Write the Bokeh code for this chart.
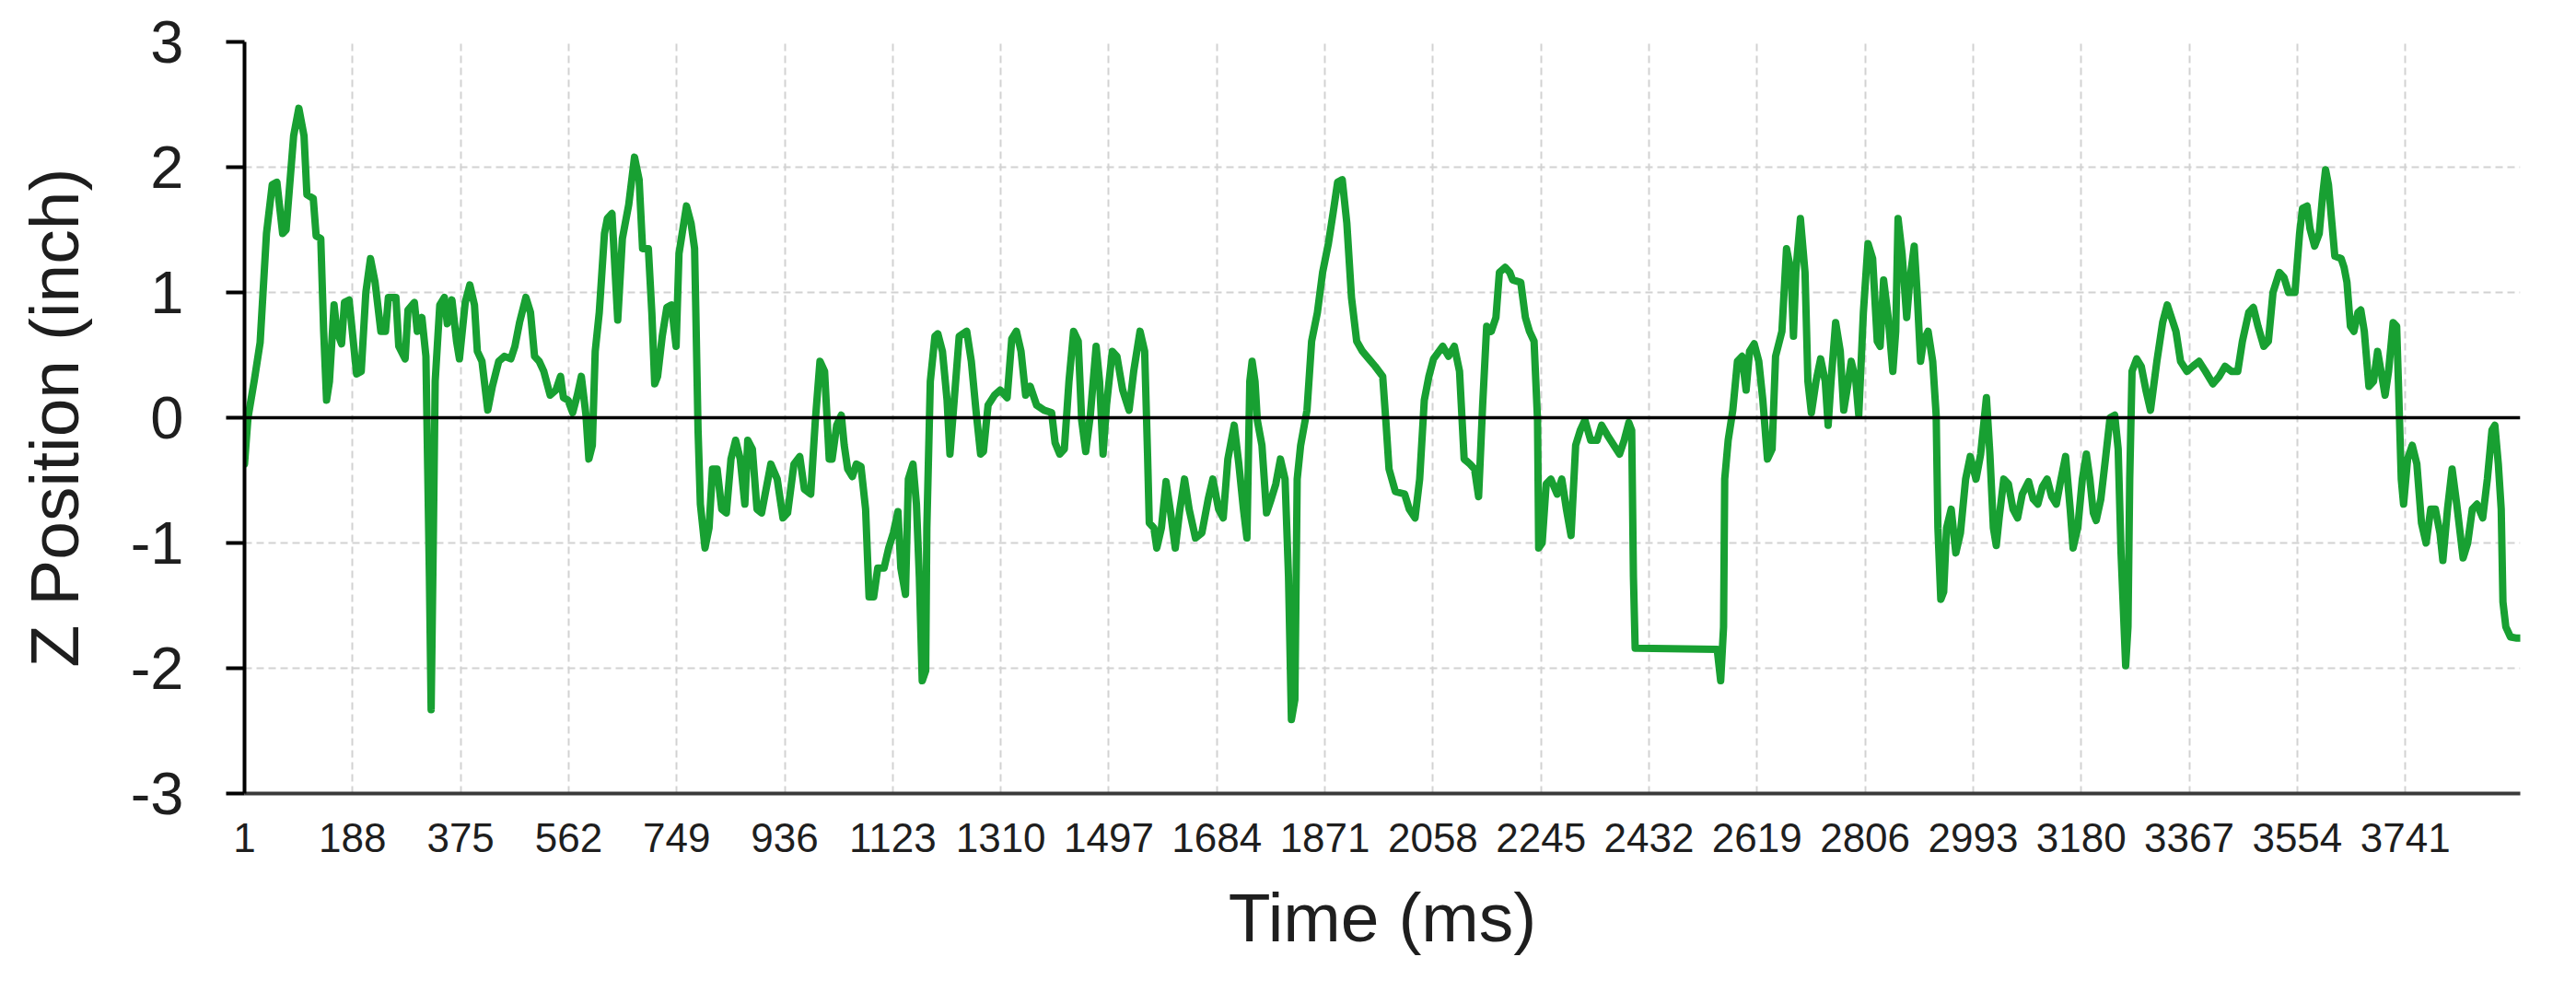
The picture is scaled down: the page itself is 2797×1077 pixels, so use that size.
from bokeh.plotting import figure
from bokeh.models import Range1d, FixedTicker, Span
from bokeh.embed import file_html
from bokeh.resources import INLINE

# ---- data ----
time_ms = [1, 7, 18, 28, 39, 49, 57, 67, 73, 86, 95, 104, 109, 120, 125, 133, 138, 143, 148, 156,
           161, 169, 174, 182, 195, 203, 211, 219, 227, 237, 245, 250, 263, 268, 279, 284, 295, 300,
           308, 315, 321, 324, 328, 331, 339, 347, 352, 360, 368, 373, 383, 391, 399, 404, 412, 422,
           430, 441, 451, 462, 469, 477, 488, 496, 503, 511, 519, 530, 540, 548, 553, 561, 569, 577,
           584, 592, 597, 603, 608, 615, 624, 629,
           637, 647, 655, 666, 676, 684, 690, 700, 706, 711, 716, 724, 732, 740, 748, 753, 766, 774,
           780, 782, 786, 790, 798, 805, 811, 819, 827, 835, 843, 851, 859, 867, 872, 880, 888, 896,
           912, 923, 933, 941, 952, 962, 970, 981, 989, 997, 1005, 1013, 1018, 1026, 1034, 1039,
           1045, 1053, 1060, 1068, 1076, 1082, 1090, 1097, 1108, 1116, 1124, 1132, 1137, 1145, 1150,
           1158, 1164, 1169, 1174, 1180, 1182, 1188, 1196, 1201, 1209, 1217, 1222, 1228, 1238, 1251,
           1259, 1267, 1275, 1280, 1288, 1299, 1309,
           1321, 1329, 1337, 1345, 1353, 1361, 1372, 1385, 1398, 1404, 1412, 1420, 1428, 1436, 1444,
           1450, 1457, 1465, 1475, 1481, 1487, 1493, 1503, 1511, 1521, 1532, 1540, 1551, 1559, 1564,
           1567, 1575, 1580, 1588, 1596, 1604, 1612, 1620, 1628, 1636, 1647, 1658, 1669, 1677, 1687,
           1695, 1703, 1714, 1722, 1730, 1736, 1741, 1745, 1750, 1754, 1762, 1770, 1778, 1786, 1794,
           1802, 1808, 1813, 1819, 1823, 1829, 1840, 1848, 1858, 1867, 1877, 1885, 1893, 1901, 1909,
           1917, 1926, 1936, 1947, 1958, 1971, 1977, 1982, 1993,
           2009, 2017, 2027, 2035, 2043, 2051, 2059, 2075, 2085, 2095, 2104, 2112, 2122, 2130, 2137,
           2144, 2151, 2159, 2167, 2173, 2183, 2191, 2196, 2210, 2218, 2225, 2233, 2239, 2241, 2247,
           2254, 2262, 2273, 2281, 2289, 2297, 2305, 2313, 2321, 2331, 2342, 2350, 2360, 2371, 2381,
           2389, 2397, 2402, 2405, 2408, 2550, 2556, 2561, 2563, 2569, 2577, 2585, 2593, 2600, 2606,
           2614, 2622, 2629, 2637, 2645, 2651,
           2662, 2670, 2678, 2682, 2686, 2694, 2702, 2707, 2713, 2721, 2729, 2737, 2742, 2747, 2755,
           2763, 2769, 2777, 2782, 2790, 2795, 2803, 2811, 2819, 2827, 2832, 2838, 2846, 2854, 2859,
           2863, 2870, 2878, 2883, 2891, 2896, 2902, 2907, 2915, 2923, 2929, 2932, 2937, 2942, 2947,
           2955, 2963, 2971, 2980, 2988, 2998, 3006, 3016, 3022, 3028, 3033, 3038, 3046, 3054, 3062,
           3070, 3078, 3089, 3097, 3105, 3113, 3121, 3129, 3137, 3145, 3153, 3161, 3166, 3174, 3182,
           3189, 3195, 3201, 3206, 3214, 3222, 3230, 3238, 3244, 3249, 3257, 3261, 3264, 3268, 3276,
           3284, 3292, 3300, 3311, 3321, 3329,
           3344, 3352, 3363, 3373, 3384, 3395, 3408, 3419, 3429, 3440, 3451, 3459, 3470, 3478, 3486,
           3496, 3504, 3512, 3523, 3531, 3539, 3550, 3558, 3563, 3571, 3576, 3584, 3592, 3598, 3603,
           3608, 3614, 3619, 3630, 3635, 3640, 3646, 3652, 3659, 3664, 3670, 3678, 3686, 3693, 3699,
           3706, 3712, 3720, 3726, 3729, 3734, 3738, 3745, 3753, 3761, 3769, 3777, 3785, 3793, 3801,
           3806, 3814, 3822, 3830, 3841, 3849, 3857, 3865, 3875, 3883, 3891, 3896, 3902, 3907, 3910,
           3915, 3923, 3934, 3945]

z_inch = [-0.37, 0.0, 0.3, 0.6, 1.47, 1.86, 1.88, 1.47, 1.5, 2.25, 2.47, 2.25, 1.78, 1.75, 1.45, 1.43,
          0.69, 0.14, 0.29, 0.9, 0.69, 0.59, 0.92, 0.94, 0.35, 0.37, 1.0, 1.27, 1.08, 0.69, 0.69, 0.96,
          0.96, 0.57, 0.47, 0.86, 0.92, 0.69, 0.8, 0.49, -1.27, -2.33, -0.88, 0.29, 0.9, 0.96, 0.75,
          0.94, 0.61, 0.47, 0.92, 1.06, 0.9, 0.53, 0.45, 0.06, 0.25, 0.45, 0.49, 0.47, 0.57, 0.76,
          0.96, 0.84, 0.49, 0.45, 0.37, 0.18, 0.22, 0.33, 0.16, 0.14, 0.04, 0.18, 0.33, 0.02, -0.33,
          -0.22, 0.53, 0.84, 1.47, 1.59,
          1.63, 0.78, 1.43, 1.7, 2.08, 1.9, 1.35, 1.35, 0.84, 0.27, 0.33, 0.65, 0.88, 0.9, 0.57, 1.31,
          1.69, 1.55, 1.35, 0.88, -0.1, -0.69, -1.04, -0.88, -0.41, -0.41, -0.73, -0.76, -0.33, -0.18,
          -0.33, -0.69, -0.18, -0.25, -0.73, -0.76, -0.37, -0.49, -0.8, -0.76, -0.37, -0.31, -0.57,
          -0.61, -0.02, 0.45, 0.37, -0.33, -0.33, -0.06, 0.02, -0.22, -0.41, -0.47, -0.37, -0.39,
          -0.73, -1.43, -1.43, -1.2, -1.2, -1.04, -0.92, -0.75, -1.2, -1.41, -0.49, -0.37, -0.69,
          -1.27, -2.1, -2.02, -0.88, 0.29, 0.65, 0.67, 0.53, 0.14, -0.29, 0.06, 0.65, 0.69, 0.45, 0.06,
          -0.29, -0.27, 0.1, 0.18, 0.22,
          0.16, 0.63, 0.69, 0.53, 0.18, 0.25, 0.1, 0.06, 0.04, -0.2, -0.29, -0.25, 0.29, 0.69, 0.61,
          -0.02, -0.27, 0.02, 0.57, 0.29, -0.29, 0.1, 0.53, 0.49, 0.22, 0.06, 0.37, 0.69, 0.53, -0.29,
          -0.84, -0.88, -1.04, -0.88, -0.51, -0.76, -1.04, -0.73, -0.49, -0.73, -0.96, -0.92, -0.65,
          -0.49, -0.73, -0.8, -0.33, -0.06, -0.37, -0.73, -0.96, 0.29, 0.45, 0.29, -0.02, -0.22,
          -0.76, -0.65, -0.53, -0.33, -0.49, -1.27, -2.41, -2.25, -0.49, -0.22, 0.06, 0.61, 0.84,
          1.16, 1.39, 1.63, 1.88, 1.9, 1.55, 0.96, 0.61, 0.53, 0.47, 0.41, 0.33, -0.06, -0.41, -0.59,
          -0.61, -0.73, -0.8, -0.49, 0.14, 0.33, 0.47, 0.57, 0.49, 0.57, 0.37, -0.33, -0.37, -0.41,
          -0.63, 0.1, 0.73, 0.69, 0.8, 1.16, 1.2, 1.16, 1.1, 1.08, 0.8, 0.69, 0.61, -0.02, -1.04, -1.0,
          -0.53, -0.49, -0.61, -0.49, -0.73, -0.94, -0.22, -0.1, -0.02, -0.18, -0.18, -0.06, -0.14,
          -0.22, -0.29, -0.18, -0.04, -0.1, -1.27, -1.84, -1.85, -2.1, -1.67, -0.49, -0.18, 0.06,
          0.45, 0.49, 0.22, 0.53, 0.59, 0.45, 0.14, -0.33, -0.25, 0.49,
          0.69, 1.35, 1.16, 0.65, 1.16, 1.59, 1.16, 0.29, 0.04, 0.29, 0.47, 0.29, -0.06, 0.29, 0.76,
          0.53, 0.06, 0.29, 0.45, 0.29, 0.02, 0.84, 1.39, 1.27, 0.61, 0.57, 1.1, 0.8, 0.37, 0.69,
          1.59, 1.31, 0.8, 1.08, 1.37, 1.0, 0.45, 0.61, 0.69, 0.45, 0.02, -0.88, -1.45, -1.39, -0.88,
          -0.73, -1.08, -0.92, -0.49, -0.31, -0.49, -0.29, 0.16, -0.29, -0.88, -1.02, -0.8, -0.49,
          -0.53, -0.73, -0.8, -0.61, -0.51, -0.65, -0.69, -0.55, -0.49, -0.63, -0.69, -0.49, -0.31,
          -0.73, -1.04, -0.88, -0.49, -0.29, -0.49, -0.76, -0.82, -0.65, -0.33, 0.0, 0.02, -0.25,
          -1.08, -1.98, -1.67, -0.49, 0.37, 0.47, 0.41, 0.22, 0.06, 0.45, 0.76, 0.9,
          0.69, 0.45, 0.37, 0.41, 0.45, 0.37, 0.27, 0.33, 0.41, 0.37, 0.37, 0.61, 0.84, 0.88, 0.73,
          0.57, 0.61, 1.0, 1.16, 1.12, 1.0, 1.0, 1.47, 1.67, 1.69, 1.51, 1.37, 1.47, 1.78, 1.98, 1.86,
          1.55, 1.29, 1.27, 1.2, 1.08, 0.73, 0.69, 0.84, 0.86, 0.69, 0.25, 0.29, 0.53, 0.37, 0.18,
          0.37, 0.76, 0.73, 0.29, -0.49, -0.69, -0.33, -0.22, -0.37, -0.84, -1.0, -0.73, -0.73, -0.92,
          -1.14, -0.73, -0.41, -0.69, -1.12, -1.0, -0.73, -0.69, -0.8, -0.49, -0.1, -0.06, -0.37,
          -0.73, -1.47, -1.67, -1.75, -1.76, -1.76]

x_ticks = [1, 188, 375, 562, 749, 936, 1123, 1310, 1497, 1684, 1871, 2058, 2245, 2432, 2619,
           2806, 2993, 3180, 3367, 3554, 3741]
y_ticks = [-3, -2, -1, 0, 1, 2, 3]
y_tick_labels = ["-3", "-2", "-1", "0", "1", "2", "3"]
x_title = "Time (ms)"
y_title = "Z Position (inch)"

assert len(time_ms) == len(z_inch)

p = figure(width=2781, height=1061, output_backend="svg", toolbar_location=None,
           x_range=Range1d(1, 3940), y_range=Range1d(-3, 3),
           min_border_left=265, min_border_right=45, min_border_top=45, min_border_bottom=200)
p.outline_line_color = None
p.background_fill_color = "white"
p.border_fill_color = "white"

# grids
p.xgrid.ticker = FixedTicker(ticks=x_ticks)
p.ygrid.ticker = FixedTicker(ticks=y_ticks)
for g in (p.xgrid, p.ygrid):
    g.grid_line_color = "#d2d2d2"
    g.grid_line_width = 2
    g.grid_line_dash = "8 5"

# x axis
xa = p.xaxis[0]
xa.ticker = FixedTicker(ticks=x_ticks)
xa.axis_label = x_title
xa.axis_line_color = "#3a3a3a"
xa.axis_line_width = 4
xa.major_tick_out = 0
xa.major_tick_in = 0
xa.minor_tick_out = 0
xa.minor_tick_in = 0
xa.major_label_standoff = 32
xa.major_label_text_font = "Liberation Sans Narrow, Arial Narrow, Liberation Sans"
xa.major_label_text_font_size = "44px"
xa.major_label_text_color = "#1e1e1e"
xa.axis_label_text_font = "Liberation Sans"
xa.axis_label_text_font_size = "75px"
xa.axis_label_text_font_style = "normal"
xa.axis_label_text_color = "#1e1e1e"
xa.axis_label_standoff = 26

# y axis
ya = p.yaxis[0]
ya.ticker = FixedTicker(ticks=y_ticks)
ya.major_label_overrides = {t: s for t, s in zip(y_ticks, y_tick_labels)}
ya.axis_label = y_title
ya.axis_line_color = "black"
ya.axis_line_width = 4
ya.major_tick_out = 20
ya.major_tick_in = 0
ya.major_tick_line_width = 4
ya.major_tick_line_color = "black"
ya.minor_tick_out = 0
ya.minor_tick_in = 0
ya.major_label_standoff = 46
ya.major_label_text_font = "Liberation Sans"
ya.major_label_text_font_size = "65px"
ya.major_label_text_color = "#1e1e1e"
ya.axis_label_text_font = "Liberation Sans"
ya.axis_label_text_font_size = "75px"
ya.axis_label_text_font_style = "normal"
ya.axis_label_text_color = "#1e1e1e"
ya.axis_label_standoff = 38

# zero line
p.add_layout(Span(location=0, dimension="width", line_color="black", line_width=3.5))

# data line
p.line(time_ms, z_inch, line_color="#18a032", line_width=8, line_join="round", line_cap="round")

open("out.html", "w").write(file_html(p, INLINE))
